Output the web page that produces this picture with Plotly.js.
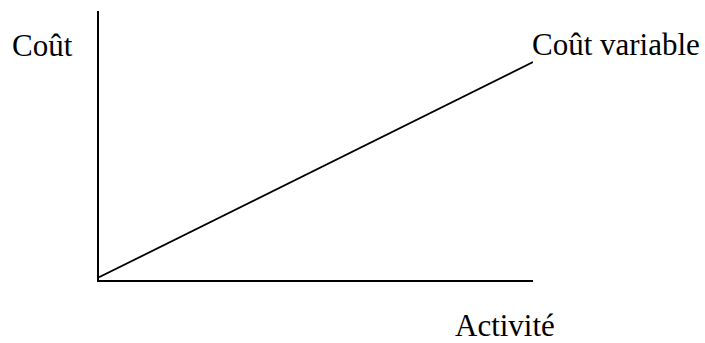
<!DOCTYPE html>
<html>
<head>
<meta charset="utf-8">
<script src="https://cdn.plot.ly/plotly-3.0.1.min.js"></script>
<style>
  html, body { margin: 0; padding: 0; background: #ffffff; }
  #chart { width: 705px; height: 343px; }
</style>
</head>
<body>
<div id="chart"></div>
<script>
// Data
const activite = [0, 100];
const coutVariable = [1, 81];
const axisRangeX = [0, 100];
const axisRangeY = [0, 100];
const labelY = "Coût";
const labelX = "Activité";
const seriesName = "Coût variable";

const FONT = "Liberation Serif, Times New Roman, serif";

const trace = {
  x: activite,
  y: coutVariable,
  type: "scatter",
  mode: "lines",
  name: seriesName,
  line: { color: "#000000", width: 1.8 },
  hoverinfo: "skip",
  cliponaxis: false
};

const W = 434, H = 269, L = 99, T = 11;
function px(x) { return (x - L) / W; }
function py(y) { return (T + H - y) / H; }

const layout = {
  width: 705,
  height: 343,
  margin: { l: L, r: 705 - L - W, t: T, b: 343 - T - H, pad: 0 },
  paper_bgcolor: "#ffffff",
  plot_bgcolor: "#ffffff",
  showlegend: false,
  font: { family: FONT, size: 31, color: "#000000" },
  xaxis: {
    range: axisRangeX,
    showline: true, linecolor: "#000000", linewidth: 2,
    showgrid: false, zeroline: false, showticklabels: false, ticks: "",
    fixedrange: true
  },
  yaxis: {
    range: axisRangeY,
    showline: true, linecolor: "#000000", linewidth: 2,
    showgrid: false, zeroline: false, showticklabels: false, ticks: "",
    fixedrange: true
  },
  annotations: [
    { text: labelY, xref: "paper", yref: "paper", x: px(10), y: py(46),
      xanchor: "left", yanchor: "middle", showarrow: false,
      font: { family: FONT, size: 31, color: "#000000" } },
    { text: seriesName, xref: "paper", yref: "paper", x: px(529.5), y: py(45),
      xanchor: "left", yanchor: "middle", showarrow: false,
      font: { family: FONT, size: 31, color: "#000000" } },
    { text: labelX, xref: "paper", yref: "paper", x: px(453), y: py(325),
      xanchor: "left", yanchor: "middle", showarrow: false,
      font: { family: FONT, size: 31, color: "#000000" } }
  ]
};

Plotly.newPlot("chart", [trace], layout, { displayModeBar: false, staticPlot: true });
</script>
</body>
</html>
